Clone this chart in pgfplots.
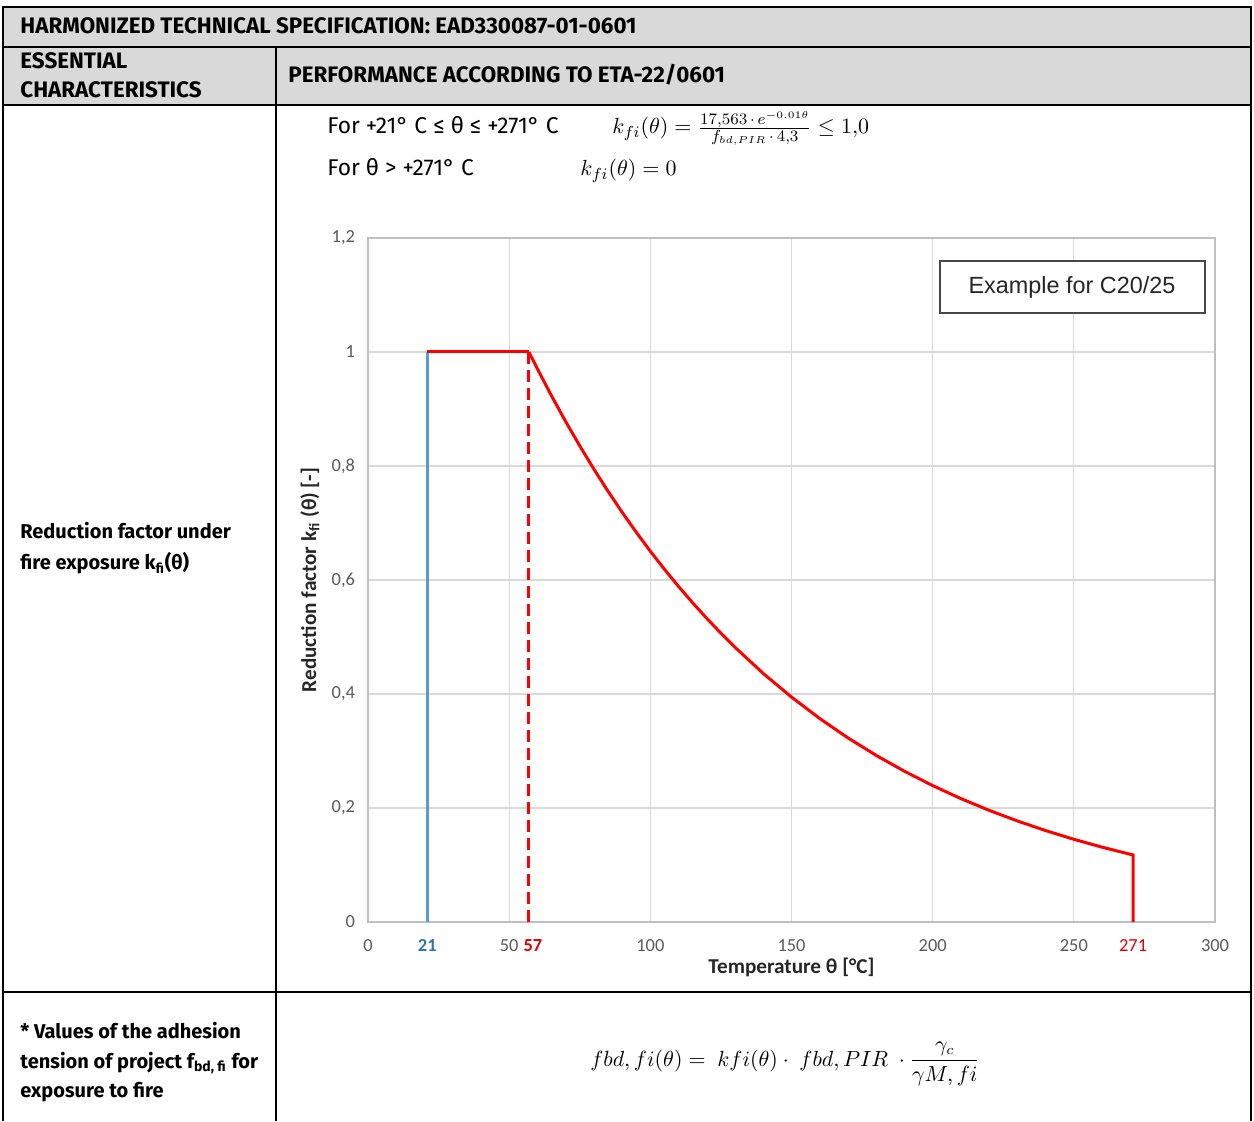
\documentclass[border=0pt]{standalone}
\usepackage{amsmath}
\usepackage{pgfplots}
\pgfplotsset{compat=1.18}
\usepackage{fontspec}
\setmainfont{Fira Sans}
\newfontfamily\carlito{Carlito}
\newfontfamily\arial{Liberation Sans}
\definecolor{HeadFill}{HTML}{D9D9D9}
\definecolor{GridGray}{HTML}{D9D9D9}
\definecolor{AxisGray}{HTML}{BFBFBF}
\definecolor{TickGray}{HTML}{595959}
\definecolor{LabelInk}{HTML}{262626}
\definecolor{LineBlue}{HTML}{5B9BD5}
\definecolor{TickBlue}{HTML}{2E75B6}
\definecolor{LineRed}{HTML}{FF0000}
\definecolor{TickRed}{HTML}{E00000}

\begin{document}
\begin{tikzpicture}[x=0.5pt,y=0.5pt]
  \useasboundingbox (0,0) rectangle (1254,1121);
  % table frame (pixel rows: y_pic = 1121 - y_px)
  \fill[HeadFill] (3,1114) rectangle (1251,1016);
  \draw[line width=1pt] (3,0) -- (3,1114) -- (1251,1114) -- (1251,0);
  \draw[line width=1pt] (3,1074) -- (1251,1074);
  \draw[line width=1pt] (3,1016) -- (1251,1016);
  \draw[line width=1pt] (3,129) -- (1251,129);
  \draw[line width=1pt] (276,0) -- (276,1074);

  % header cells, capitals set a little wider
  \begin{scope}[every node/.style={anchor=base west, inner sep=0pt, font=\bfseries\fontsize{11.2}{13}\selectfont}]
    \node at (20,1087) {HARMONIZED TECHNICAL SPECIFICATION: EAD330087-01-0601};
    \node at (20,1052) {ESSENTIAL};
    \node at (20,1023) {CHARACTERISTICS};
    \node at (288,1038) {PERFORMANCE ACCORDING TO ETA-22/0601};
  \end{scope}

  \begin{scope}[every node/.style={anchor=base west, inner sep=0pt, font=\bfseries\fontsize{10}{12}\selectfont}]
    \node at (20,582) {Reduction factor under};
    \node at (20,551) {fire exposure k\textsubscript{fi}(θ)};
    \node at (20,83) {* Values of the adhesion};
    \node at (20,53) {tension of project f\textsubscript{bd, fi} for};
    \node at (20,24) {exposure to fire};
  \end{scope}

  \begin{scope}[every node/.style={anchor=base west, inner sep=0pt, font=\fontsize{11.4}{13}\selectfont}]
    \node at (327,987) {For +21° C ≤ θ ≤ +271° C};
    \node at (327,945) {For θ > +271° C};
    \node at (612,987) {\fontsize{11}{13}\selectfont $k_{fi}(\theta)=\frac{17{,}563\,\cdot\, e^{-0.01\theta}}{f_{bd,PIR}\,\cdot\,4{,}3}\leq 1{,}0$};
    \node at (580,945) {\fontsize{11}{13}\selectfont $k_{fi}(\theta)=0$};
    \node at (590,55) {\fontsize{10.6}{13}\selectfont $fbd,fi(\theta) =\ kfi(\theta)\cdot\ fbd,PIR\ \cdot\dfrac{\gamma_c}{\gamma M,fi}$};
  \end{scope}

  \begin{axis}[
      at={(184pt,99.5pt)}, anchor=south west,
      scale only axis, width=423.5pt, height=342pt,
      xmin=0, xmax=300, ymin=0, ymax=1.2,
      xtick={0,50,100,150,200,250,300},
      ytick={0,0.2,0.4,0.6,0.8,1,1.2},
      extra x ticks={21,57,271},
      extra x tick labels={\textcolor{TickBlue}{\bfseries 21},\hspace*{4pt}\textcolor{TickRed}{\bfseries 57},\textcolor{TickRed}{271}},
      extra x tick style={grid=none},
      major tick length=0pt,
      grid=major,
      major grid style={GridGray, line width=0.6pt},
      axis line style={AxisGray, line width=0.6pt},
      /pgf/number format/assume math mode=true,
      /pgf/number format/use comma,
      tick label style={font=\carlito\fontsize{9.2}{11}\selectfont, color=TickGray},
      xticklabel style={yshift=-5pt},
      yticklabel style={xshift=-3pt},
      every axis x label/.style={at={(axis description cs:0.5,-0.066)}, anchor=center},
      every axis y label/.style={at={(axis description cs:-0.0685,0.5)}, anchor=center, rotate=90},
      label style={font=\carlito\bfseries\fontsize{10.6}{12}\selectfont, color=LabelInk},
      xlabel={Temperature θ [°C]},
      ylabel={Reduction factor k\textsubscript{fi} (θ) [-]},
    ]
    \addplot[LineBlue, line width=1.5pt] coordinates {(21,0) (21,1)};
    \addplot[LineRed, line width=1.5pt] coordinates {(21,1) (57,1)};
    \addplot[LineRed, line width=1.5pt, dash pattern=on 6pt off 3pt] coordinates {(57,0) (57,1)};
    \addplot[LineRed, line width=1.5pt] coordinates {
      (57,1) (60,0.9704) (65,0.9231) (70,0.8781) (75,0.8353) (80,0.7945)
      (85,0.7558) (90,0.7189) (95,0.6839) (100,0.6505) (105,0.6188)
      (110,0.5886) (115,0.5599) (120,0.5326) (125,0.5066) (130,0.4819)
      (140,0.4360) (150,0.3946) (160,0.3570) (170,0.3230) (180,0.2923)
      (190,0.2645) (200,0.2393) (210,0.2165) (220,0.1959) (230,0.1773)
      (240,0.1604) (250,0.1451) (260,0.1313) (270,0.1188) (271,0.1177)
      (271,0)
    };
  \end{axis}

  \node[draw=TickGray!80!black, line width=1pt, fill=white, minimum width=132.5pt, minimum height=26pt,
        inner sep=0pt, font=\arial\fontsize{11.7}{14}\selectfont, text=LabelInk] at (1072,834) {Example for C20/25};
\end{tikzpicture}
\end{document}
